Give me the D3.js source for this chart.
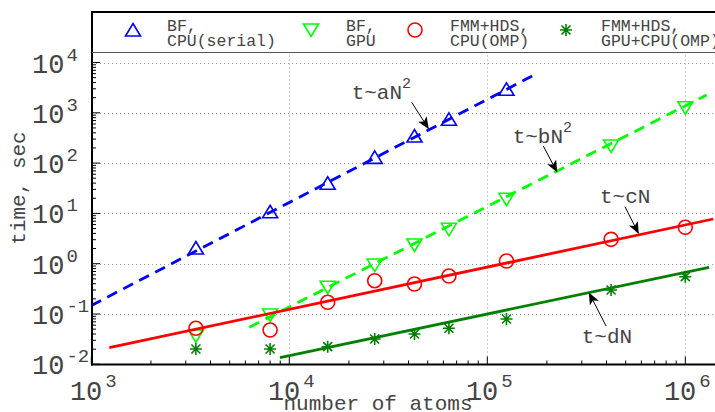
<!DOCTYPE html>
<html>
  <head>
    <meta charset="utf-8">
    <title>timing</title>
    <script src="https://d3js.org/d3.v7.min.js"></script>
    <style>
      body { margin: 0; background: #fff; }
      text { font-family: "Liberation Mono", monospace; fill: #444; }
    </style>
  </head>
  <body>
    <script>
      // number of atoms (shared by all series)
      const atoms = [3375, 8000, 15625, 27000, 42875, 64000, 125000, 421875, 1000000];
      // time, sec
      const bfCpu = [2.05, 10.8, 39.7, 130, 346, 743, 2932];
      const bfGpu = [0.0366, 0.0955, 0.34, 0.94, 2.35, 4.83, 19.1, 219, 1262];
      const fmmCpu = [0.052, 0.048, 0.171, 0.459, 0.394, 0.569, 1.13, 3.05, 5.29];
      const fmmGpu = [0.0201, 0.0201, 0.0224, 0.0318, 0.040, 0.052, 0.0794, 0.30, 0.552];

      // fitted lines, [N, t] end points
      const fitBfCpu = [[1000, 0.1476], [168700, 5395]];
      const fitBfGpu = [[6281, 0.0545], [1282000, 2260]];
      const fitFmmCpu = [[1233, 0.0214], [1384000, 7.74]];
      const fitFmmGpu = [[8970, 0.01352], [1318000, 0.848]];

      const xTicks = [1e3, 1e4, 1e5, 1e6];
      const yTicks = [1e-2, 1e-1, 1e0, 1e1, 1e2, 1e3, 1e4];

      const legendLabels = [
        ["BF,", "CPU(serial)"],
        ["BF,", "GPU"],
        ["FMM+HDS,", "CPU(OMP)"],
        ["FMM+HDS,", "GPU+CPU(OMP)"]
      ];

      // annotations: label position, arrow from, arrow to (data coords)
      const notes = [
        {base: "t~aN", sup: "2", at: [20650, 1854], from: [41500, 1618], to: [50350, 492]},
        {base: "t~bN", sup: "2", at: [134300, 248], from: [191800, 219], to: [224400, 67.5]},
        {base: "t~cN", sup: "", at: [370700, 16.3], from: [495700, 13.6], to: [579000, 4.07]},
        {base: "t~dN", sup: "", at: [300000, 0.0261], from: [398000, 0.0577], to: [327500, 0.258]}
      ];

      const W = 715, H = 412;
      const pLeft = 92, pRight = 730, pTop = 12, pBottom = 364.5;

      const svg = d3.select("body").append("svg")
          .attr("width", W)
          .attr("height", H);

      const x = d3.scaleLog().domain([1e3, 1e6]).range([91.3, 685.3]);
      const y = d3.scaleLog().domain([1e-2, 1e4]).range([364.3, 62.5]);

      const defs = svg.append("defs");
      defs.append("clipPath").attr("id", "plot")
        .append("rect").attr("x", pLeft).attr("y", pTop)
        .attr("width", pRight - pLeft).attr("height", pBottom - pTop);
      defs.append("marker").attr("id", "head")
          .attr("viewBox", "0 0 12 10").attr("refX", 11).attr("refY", 5)
          .attr("markerWidth", 12).attr("markerHeight", 10)
          .attr("markerUnits", "userSpaceOnUse").attr("orient", "auto")
        .append("path").attr("d", "M0,0 L12,5 L0,10 L3,5 Z").attr("fill", "#000");

      // grid
      const grid = svg.append("g").attr("stroke", "#999").attr("stroke-width", 1)
          .attr("stroke-dasharray", "1,3");
      yTicks.slice(1).forEach(v => {
        grid.append("line").attr("x1", pLeft).attr("x2", pRight)
          .attr("y1", Math.round(y(v)) + 0.5).attr("y2", Math.round(y(v)) + 0.5);
      });
      xTicks.slice(1).forEach(v => {
        grid.append("line").attr("y1", pBottom).attr("y2", pTop)
          .attr("x1", Math.round(x(v)) + 0.5).attr("x2", Math.round(x(v)) + 0.5);
      });

      // ticks
      const ticks = svg.append("g").attr("stroke", "#000").attr("stroke-width", 1);
      for (let d = 3; d <= 6; d++) {
        for (let k = 1; k <= 9; k++) {
          const v = k * Math.pow(10, d);
          const px = x(v);
          if (px > pRight) continue;
          ticks.append("line").attr("x1", px).attr("x2", px)
            .attr("y1", pBottom).attr("y2", pBottom - (k === 1 ? 8 : 4));
        }
      }
      for (let d = -2; d <= 4; d++) {
        for (let k = 1; k <= 9; k++) {
          const v = k * Math.pow(10, d);
          const py = y(v);
          if (py < pTop) continue;
          ticks.append("line").attr("y1", py).attr("y2", py)
            .attr("x1", pLeft).attr("x2", pLeft + (k === 1 ? 8 : 4));
        }
      }

      // markers
      const plot = svg.append("g").attr("clip-path", "url(#plot)");

      function triUp(g, cx, cy, color) {
        g.append("path").attr("d", `M${cx},${cy - 6.5} L${cx + 7.5},${cy + 6} L${cx - 7.5},${cy + 6} Z`)
          .attr("fill", "none").attr("stroke", color).attr("stroke-width", 1.6);
      }
      function triDown(g, cx, cy, color) {
        g.append("path").attr("d", `M${cx},${cy + 6.5} L${cx + 7.5},${cy - 6} L${cx - 7.5},${cy - 6} Z`)
          .attr("fill", "none").attr("stroke", color).attr("stroke-width", 1.6);
      }
      function ring(g, cx, cy, color) {
        g.append("circle").attr("cx", cx).attr("cy", cy).attr("r", 7)
          .attr("fill", "none").attr("stroke", color).attr("stroke-width", 1.6);
      }
      function star(g, cx, cy, color) {
        const r = 6, q = 4.5;
        g.append("path")
          .attr("d", `M${cx},${cy - r}V${cy + r}M${cx - r},${cy}H${cx + r}` +
                     `M${cx - q},${cy - q}L${cx + q},${cy + q}M${cx - q},${cy + q}L${cx + q},${cy - q}`)
          .attr("stroke", color).attr("stroke-width", 1.6).attr("fill", "none");
      }

      const series = [
        {vals: bfCpu, fit: fitBfCpu, color: "#0000ff", dash: "11,7", mark: triUp},
        {vals: bfGpu, fit: fitBfGpu, color: "#00ff00", dash: "11,7", mark: triDown},
        {vals: fmmCpu, fit: fitFmmCpu, color: "#ff0000", dash: null, mark: ring},
        {vals: fmmGpu, fit: fitFmmGpu, color: "#008000", dash: null, mark: star}
      ];

      const line = d3.line().x(d => x(d[0])).y(d => y(d[1]));

      series.forEach(s => {
        s.vals.forEach((v, i) => s.mark(plot, x(atoms[i]), y(v), s.color));
        plot.append("path").datum(s.fit).attr("d", line)
          .attr("fill", "none").attr("stroke", s.color).attr("stroke-width", 2.8)
          .attr("stroke-dasharray", s.dash);
      });

      // annotations
      notes.forEach(n => {
        svg.append("line")
          .attr("x1", x(n.from[0])).attr("y1", y(n.from[1]))
          .attr("x2", x(n.to[0])).attr("y2", y(n.to[1]))
          .attr("stroke", "#000").attr("stroke-width", 1)
          .attr("marker-end", "url(#head)");
        const t = svg.append("text").attr("x", x(n.at[0])).attr("y", y(n.at[1]))
          .attr("font-size", 21).text(n.base);
        if (n.sup) t.append("tspan").attr("dy", -11).attr("font-size", 15).text(n.sup);
      });

      // axis frame
      svg.append("line").attr("x1", pLeft).attr("x2", pLeft).attr("y1", pTop).attr("y2", pBottom + 1)
        .attr("stroke", "#000").attr("stroke-width", 2);
      svg.append("line").attr("x1", pLeft - 1).attr("x2", W).attr("y1", pBottom).attr("y2", pBottom)
        .attr("stroke", "#000").attr("stroke-width", 2);

      // legend box on top of the plot
      svg.append("rect").attr("x", pLeft + 1).attr("y", pTop).attr("width", W - pLeft).attr("height", 40)
        .attr("fill", "#fff");
      svg.append("line").attr("x1", pLeft).attr("x2", W).attr("y1", 52.5).attr("y2", 52.5)
        .attr("stroke", "#555").attr("stroke-width", 1);
      svg.append("line").attr("x1", pLeft - 1).attr("x2", W).attr("y1", pTop).attr("y2", pTop)
        .attr("stroke", "#000").attr("stroke-width", 2);

      const legX = [[133, 167], [311, 346], [415, 450], [566, 601]];
      series.forEach((s, i) => {
        s.mark(svg, legX[i][0], 30, s.color);
        const t = svg.append("text").attr("x", legX[i][1]).attr("font-size", 16.5);
        t.append("tspan").attr("x", legX[i][1]).attr("y", 31).text(legendLabels[i][0]);
        t.append("tspan").attr("x", legX[i][1]).attr("y", 46).text(legendLabels[i][1]);
      });

      // tick labels
      xTicks.forEach(v => {
        const e = Math.round(Math.log10(v));
        const t = svg.append("text").attr("x", x(v) + 2).attr("y", 400)
          .attr("text-anchor", "middle").attr("font-size", 27).text("10");
        t.append("tspan").attr("dy", -13).attr("dx", 3).attr("font-size", 19).text(e);
      });
      yTicks.forEach(v => {
        const e = Math.round(Math.log10(v));
        const t = svg.append("text").attr("x", 32).attr("y", y(v) + 10)
          .attr("font-size", 27).text("10");
        t.append("tspan").attr("dy", -12).attr("dx", 2).attr("font-size", 19).text(e < 0 ? "-" + (-e) : e);
      });

      // axis titles
      svg.append("text").attr("x", 378).attr("y", 410).attr("text-anchor", "middle")
        .attr("font-size", 21).text("number of atoms");
      svg.append("text").attr("transform", "translate(25,188) rotate(-90)")
        .attr("text-anchor", "middle").attr("font-size", 21).text("time, sec");
    </script>
  </body>
</html>
